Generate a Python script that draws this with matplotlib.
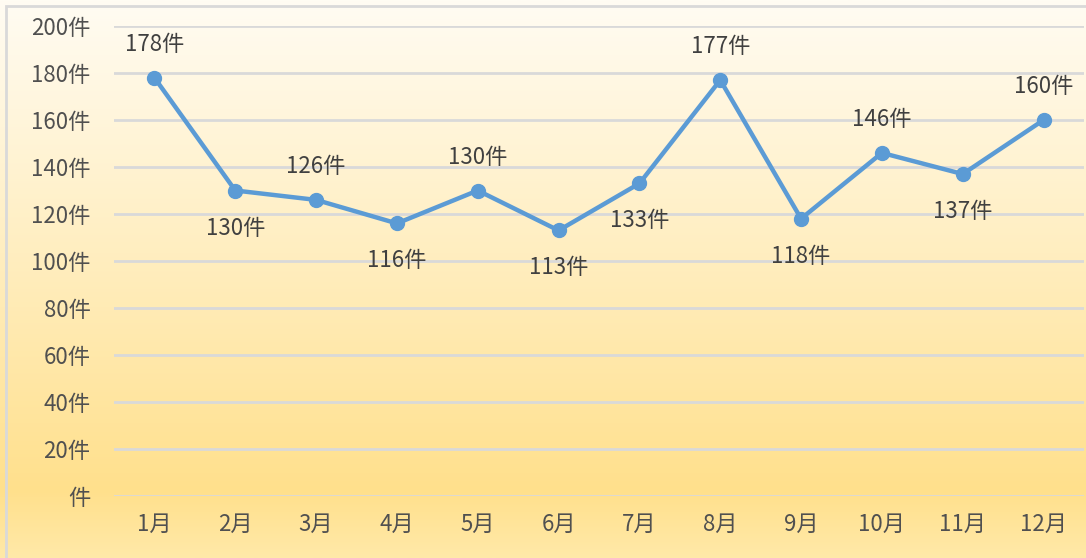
import numpy as np
import matplotlib.pyplot as plt
from matplotlib.colors import LinearSegmentedColormap
from matplotlib.patches import Rectangle

plt.rcParams['font.family'] = ['Noto Sans CJK JP', 'DejaVu Sans']

# --- data ---
months = ["1月", "2月", "3月", "4月", "5月", "6月", "7月", "8月", "9月", "10月", "11月", "12月"]
counts = [178, 130, 126, 116, 130, 113, 133, 177, 118, 146, 137, 160]
# where each data label goes: 1 = above, -1 = below
label_side = [1, -1, 1, -1, 1, -1, -1, 1, -1, 1, -1, 1]
y_ticks = [0, 20, 40, 60, 80, 100, 120, 140, 160, 180, 200]

TEXT = "#505050"
LINE = "#5B9BD5"

fig = plt.figure(figsize=(10.86, 5.58), dpi=100)

# gradient background
bg = fig.add_axes([0, 0, 1, 1], zorder=0)
cmap = LinearSegmentedColormap.from_list(
    "bg", [(0.0, "#FFE9A8"), (0.12, "#FFE08C"), (0.45, "#FFEBB5"), (1.0, "#FFFCF3")])
grad = np.linspace(0, 1, 256).reshape(-1, 1)
bg.imshow(grad, aspect="auto", cmap=cmap, origin="lower", extent=[0, 1, 0, 1])
bg.add_patch(Rectangle((6 / 1086, -0.01), 1.02, 1 - 6 / 558 + 0.01, transform=bg.transAxes,
                       fill=False, edgecolor="#D9D9D9", linewidth=2))
bg.set_xlim(0, 1)
bg.set_ylim(0, 1)
bg.axis("off")

ax = fig.add_axes([114 / 1086, 62 / 558, 970 / 1086, 470 / 558], zorder=1)
ax.patch.set_alpha(0)

x = np.arange(len(months))
ax.plot(x, counts, color=LINE, linewidth=3.2, marker="o", markersize=10,
        solid_capstyle="round", zorder=3)

for xi, v, side in zip(x, counts, label_side):
    off = 24 if side > 0 else -27
    ax.annotate(f"{v}件", (xi, v), xytext=(0, off), textcoords="offset points",
                ha="center", va="center", fontsize=16, color="#404040")

ax.set_xlim(-0.5, len(months) - 0.5)
ax.set_ylim(0, 200)
ax.set_yticks(y_ticks)
ax.set_yticklabels([f"{t}件" if t else "件" for t in y_ticks], fontsize=16, color=TEXT)
ax.set_xticks(x)
ax.set_xticklabels(months, fontsize=16, color=TEXT)
ax.tick_params(length=0)
ax.tick_params(axis="y", pad=17)
ax.tick_params(axis="x", pad=12)
ax.grid(axis="y", color="#D9D9D9", linewidth=2)
ax.set_axisbelow(True)
for s in ax.spines.values():
    s.set_visible(False)

fig.savefig("out.png", dpi=100)
